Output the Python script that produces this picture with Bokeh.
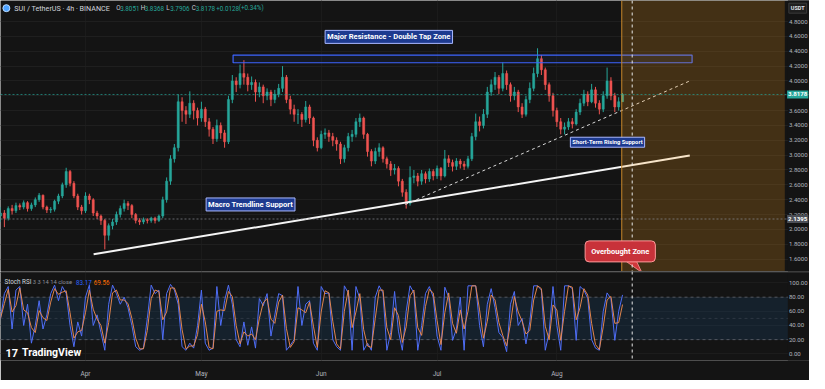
from bokeh.plotting import figure
from bokeh.models import Range1d, FixedTicker, Span, Label, BoxAnnotation
from bokeh.layouts import column
from bokeh.embed import file_html
from bokeh.resources import INLINE
from bokeh.core.properties import value

# ---------------- data (daily bars, day 0 = 10 Mar) ----------------
first_open = 2.18
close = [2.22, 2.15, 2.28, 2.25, 2.32, 2.30, 2.36, 2.28, 2.33, 2.40,
         2.46, 2.30, 2.26, 2.27, 2.38, 2.45, 2.60, 2.78, 2.62, 2.45,
         2.30, 2.25, 2.45, 2.40, 2.22, 2.18, 2.12, 1.92, 2.05, 2.10,
         2.20, 2.28, 2.35, 2.32, 2.20, 2.12, 2.10, 2.13, 2.12, 2.15,
         2.12, 2.18, 2.40, 2.65, 2.95, 3.10, 3.72, 3.60, 3.55, 3.70,
         3.60, 3.50, 3.62, 3.45, 3.35, 3.22, 3.40, 3.30, 3.18, 3.75,
         4.00, 3.95, 4.10, 4.05, 3.95, 3.98, 3.85, 3.92, 3.80, 3.85,
         3.75, 3.82, 3.90, 4.05, 3.75, 3.62, 3.55, 3.55, 3.48, 3.65,
         3.50, 3.20, 3.10, 3.28, 3.30, 3.25, 3.20, 3.15, 2.95, 3.10,
         3.25, 3.28, 3.45, 3.50, 3.28, 3.05, 2.92, 3.05, 3.10, 2.95,
         2.88, 2.80, 2.82, 2.65, 2.50, 2.35, 2.70, 2.72, 2.65, 2.75,
         2.68, 2.78, 2.72, 2.82, 2.72, 2.95, 2.90, 2.85, 2.92, 2.88,
         2.85, 2.95, 3.25, 3.45, 3.40, 3.55, 3.85, 3.95, 4.05, 3.90,
         4.10, 3.95, 3.80, 3.85, 3.65, 3.55, 3.75, 3.90, 4.10, 4.30,
         4.15, 3.95, 3.80, 3.60, 3.45, 3.35, 3.38, 3.45, 3.42, 3.58,
         3.70, 3.82, 3.72, 3.88, 3.70, 3.62, 3.80, 4.00, 3.80, 3.65,
         3.72, 3.8178]
high = [2.30, 2.26, 2.31, 2.33, 2.36, 2.35, 2.39, 2.38, 2.36, 2.43,
        2.49, 2.47, 2.32, 2.30, 2.40, 2.48, 2.63, 2.83, 2.80, 2.65,
        2.48, 2.33, 2.50, 2.48, 2.42, 2.25, 2.20, 2.14, 2.08, 2.14,
        2.24, 2.32, 2.40, 2.38, 2.34, 2.22, 2.15, 2.16, 2.15, 2.17,
        2.17, 2.20, 2.44, 2.70, 3.00, 3.15, 3.82, 3.78, 3.66, 3.86,
        3.74, 3.64, 3.72, 3.65, 3.50, 3.38, 3.48, 3.44, 3.34, 3.80,
        4.08, 4.05, 4.22, 4.28, 4.10, 4.06, 4.02, 3.98, 3.95, 3.90,
        3.88, 3.88, 3.96, 4.20, 4.08, 3.80, 3.68, 3.62, 3.58, 3.73,
        3.68, 3.52, 3.24, 3.33, 3.36, 3.34, 3.30, 3.24, 3.18, 3.14,
        3.30, 3.34, 3.50, 3.56, 3.52, 3.30, 3.08, 3.10, 3.16, 3.12,
        2.98, 2.92, 2.88, 2.85, 2.68, 2.54, 2.85, 2.80, 2.76, 2.80,
        2.78, 2.82, 2.81, 2.86, 2.84, 3.07, 3.00, 2.94, 2.96, 2.95,
        2.92, 2.99, 3.30, 3.56, 3.52, 3.62, 3.92, 4.02, 4.12, 4.08,
        4.25, 4.14, 3.98, 3.92, 3.88, 3.70, 3.80, 3.98, 4.18, 4.44,
        4.35, 4.18, 3.98, 3.84, 3.64, 3.50, 3.44, 3.50, 3.50, 3.62,
        3.76, 3.88, 3.86, 3.96, 3.92, 3.74, 3.86, 4.18, 4.05, 3.84,
        3.78, 3.8368]
low = [2.10, 2.03, 2.12, 2.20, 2.22, 2.26, 2.27, 2.24, 2.25, 2.30,
       2.37, 2.27, 2.22, 2.22, 2.24, 2.34, 2.42, 2.56, 2.58, 2.42,
       2.26, 2.20, 2.22, 2.34, 2.18, 2.14, 2.06, 1.73, 1.85, 2.00,
       2.06, 2.16, 2.24, 2.26, 2.15, 2.08, 2.06, 2.07, 2.08, 2.09,
       2.08, 2.10, 2.15, 2.36, 2.60, 2.90, 3.05, 3.45, 3.42, 3.50,
       3.48, 3.40, 3.45, 3.38, 3.25, 3.15, 3.18, 3.22, 3.10, 3.15,
       3.70, 3.85, 3.90, 3.95, 3.86, 3.88, 3.72, 3.78, 3.70, 3.74,
       3.66, 3.70, 3.78, 3.85, 3.70, 3.55, 3.45, 3.42, 3.38, 3.44,
       3.42, 3.12, 3.05, 3.08, 3.22, 3.18, 3.12, 3.06, 2.88, 2.90,
       3.05, 3.18, 3.24, 3.38, 3.22, 2.98, 2.85, 2.88, 2.98, 2.90,
       2.82, 2.72, 2.74, 2.58, 2.44, 2.28, 2.32, 2.62, 2.58, 2.60,
       2.62, 2.64, 2.66, 2.68, 2.66, 2.70, 2.84, 2.78, 2.80, 2.82,
       2.80, 2.82, 2.92, 3.20, 3.32, 3.36, 3.50, 3.80, 3.88, 3.82,
       3.86, 3.88, 3.72, 3.74, 3.58, 3.50, 3.52, 3.70, 3.86, 4.05,
       4.08, 3.88, 3.72, 3.52, 3.38, 3.28, 3.28, 3.34, 3.36, 3.40,
       3.54, 3.66, 3.66, 3.70, 3.64, 3.55, 3.58, 3.76, 3.74, 3.58,
       3.60, 3.7906]
stoch_k = [50, 85, 95, 35, 90, 95, 40, 70, 15, 40,
           75, 35, 55, 85, 97, 75, 95, 85, 40, 10,
           45, 25, 80, 97, 40, 55, 30, 5, 70, 97,
           85, 70, 80, 65, 40, 10, 5, 8, 50, 97,
           85, 90, 20, 85, 98, 90, 70, 10, 5, 15,
           8, 40, 90, 15, 5, 8, 95, 40, 75, 97,
           70, 20, 10, 45, 12, 38, 8, 78, 68, 85,
           25, 55, 85, 82, 5, 12, 20, 95, 40, 70,
           75, 15, 5, 95, 85, 86, 20, 10, 5, 96,
           86, 5, 95, 78, 5, 15, 5, 80, 96, 86,
           5, 30, 88, 32, 5, 60, 96, 86, 5, 40,
           85, 95, 80, 25, 5, 94, 80, 19, 35, 80,
           5, 96, 96, 96, 40, 10, 70, 92, 65, 30,
           23, 3, 70, 88, 40, 50, 14, 45, 96, 96,
           90, 5, 30, 95, 40, 5, 96, 96, 92, 19,
           95, 90, 78, 20, 8, 5, 60, 86, 78, 19,
           60, 83.17]
stoch_d = [50, 71, 91, 59, 68, 93, 62, 58, 37, 30,
           61, 51, 47, 73, 92, 84, 87, 89, 58, 22,
           31, 33, 58, 90, 63, 49, 40, 15, 44, 86,
           90, 76, 76, 71, 50, 22, 7, 7, 33, 78,
           90, 88, 48, 59, 93, 93, 78, 34, 7, 11,
           11, 27, 70, 45, 9, 7, 60, 62, 61, 88,
           81, 40, 14, 31, 25, 28, 20, 50, 72, 78,
           49, 43, 73, 83, 36, 9, 17, 65, 62, 58,
           73, 39, 9, 59, 89, 86, 46, 14, 7, 60,
           90, 37, 59, 85, 34, 11, 9, 50, 90, 90,
           37, 20, 65, 54, 16, 38, 82, 90, 37, 26,
           67, 91, 86, 47, 13, 58, 86, 43, 29, 62,
           35, 60, 96, 96, 62, 22, 46, 83, 76, 44,
           26, 11, 43, 81, 59, 46, 28, 33, 76, 96,
           92, 39, 20, 69, 62, 19, 60, 96, 94, 48,
           65, 92, 83, 43, 13, 6, 38, 76, 81, 43,
           44, 69.56]

price_ticks = [1.6, 1.8, 2.0, 2.2, 2.4, 2.6, 2.8, 3.0, 3.2, 3.4, 3.6, 3.8, 4.0, 4.2, 4.4, 4.6, 4.8]
rsi_ticks = [0, 20, 40, 60, 80, 100]
month_days = [22, 52, 83, 113, 144]
month_labels = ["Apr", "May", "Jun", "Jul", "Aug"]

last_price = 3.8178
ref_price = 2.1395
resistance_days = [60.2, 179.0]
resistance_prices = [4.245, 4.348]
macro_days = [24.1, 178.4]
macro_prices = [1.665, 2.994]
short_days = [104.8, 178.4]
short_prices = [2.335, 4.0]
zone_days = [160.8, 203.0]
now_day = 163.5

# ---------------- layout helpers (reference pixel -> data) ----------------
def dx(xr):
    return xr / 3.94

def py(yr):
    return 4.0 - (yr - 84) / 77.5

def ry(yr):
    return (369 - yr) / 0.74

BG = "#141414"
GRID = "#1f1f1f"
TXT = "#b2b5be"
UP = "#26a69a"
DN = "#ef5350"
FONT = "Roboto"
PLOT_END = dx(803)

n = min(len(close), len(high), len(low))
days = list(range(n))
opens = [first_open] + close[:n - 1]
cols = [UP if close[i] >= opens[i] else DN for i in range(n)]
body_top = [max(opens[i], close[i]) for i in range(n)]
body_bot = [min(opens[i], close[i]) for i in range(n)]
hi = [max(high[i], body_top[i]) for i in range(n)]
lo = [min(low[i], body_bot[i]) for i in range(n)]

FW = 809
xr = Range1d(0, dx(825))

def lab(fig, x, y, text, color="#d1d4dc", size="7px", style="normal", align="left", **kw):
    fig.add_layout(Label(x=x, y=y, text=text, text_color=color, text_font_size=size,
                         text_font_style=style, text_align=align, text_baseline="middle",
                         text_font=FONT, **kw))

# ---------------- main price panel ----------------
p = figure(frame_width=FW, frame_height=271, x_range=xr, y_range=Range1d(py(283), py(0)),
           x_axis_location=None, y_axis_location=None,
           output_backend="svg", toolbar_location=None,
           min_border_left=0, min_border_right=0, min_border_top=0, min_border_bottom=0,
           background_fill_color=BG, border_fill_color=BG, outline_line_color=None)
p.ygrid.ticker = FixedTicker(ticks=price_ticks)
p.ygrid.grid_line_color = GRID
p.xgrid.ticker = FixedTicker(ticks=month_days)
p.xgrid.grid_line_color = "#1b1b1b"

p.add_layout(Span(location=last_price, dimension="width", line_color=UP, line_dash="2 2",
                  line_alpha=0.7, line_width=1))
p.add_layout(Span(location=ref_price, dimension="width", line_color="#8a8d96", line_dash="2 2",
                  line_alpha=0.7, line_width=1))

# candles
p.segment(days, hi, days, lo, color=cols, line_width=1)
p.vbar(x=days, width=0.55, top=body_top, bottom=body_bot, fill_color=cols, line_color=cols,
       line_width=0.5)

# resistance zone
p.quad(left=[resistance_days[0]], right=[resistance_days[1]], bottom=[resistance_prices[0]],
       top=[resistance_prices[1]], fill_color="#2962ff", fill_alpha=0.07,
       line_color="#3d64ff", line_width=1.2)

# trendlines
p.line(macro_days, macro_prices, line_color="#f5f5f5", line_width=2)
p.line(short_days, short_prices, line_color="#d9d9d9", line_width=1, line_dash="3 3")

# overbought zone
p.quad(left=[zone_days[0]], right=[zone_days[1]], bottom=[py(283)], top=[py(0)],
       fill_color="#ff9f1a", fill_alpha=0.2, line_color=None)
p.segment([zone_days[0]], [py(283)], [zone_days[0]], [py(0)], line_color="#c7862a", line_width=1)

# price scale area
p.quad(left=[PLOT_END], right=[dx(830)], bottom=[py(290)], top=[py(-5)],
       fill_color=BG, line_color=None)
p.text(x=[dx(804)] * len(price_ticks), y=price_ticks, text=["%.4f" % t for t in price_ticks],
       text_font=value(FONT), text_font_size="6.1px", text_color=TXT, text_baseline="middle",
       text_align="left")

p.add_layout(Span(location=now_day, dimension="height", line_color="#e8e8e8",
                  line_dash="3 3", line_width=1))

# callout pointer
p.patch([dx(636), dx(648), dx(654)], [py(271), py(271), py(284)], fill_color="#d0383a",
        line_color="#ff9a9a", line_width=0.8)

# header
p.scatter([dx(6)], [py(8)], size=7, marker="circle", fill_color="#4da2ff", line_color="#bcdcff")
lab(p, dx(14), py(8), "SUI / TetherUS · 4h · BINANCE", color="#d1d4dc", size="7.2px")
segs = [("O", 118, "#c9ccd4"), ("3.8051", 122, UP), ("H", 143, "#c9ccd4"), ("3.8368", 147, UP),
        ("L", 169, "#c9ccd4"), ("3.7906", 173, UP), ("C", 195, "#c9ccd4"), ("3.8178", 199, UP),
        ("+0.0128", 220, UP), ("(+0.34%)", 243, UP)]
for t, xx, c in segs:
    lab(p, dx(xx), py(8), t, color=c, size="6.3px")

# annotation labels
box = dict(background_fill_color="#1d3a8f", background_fill_alpha=1.0,
           border_line_color="#a9b8ff", border_line_width=1, padding=2)
lab(p, dx(396), py(38), "Major Resistance - Double Tap Zone", color="#ffffff", size="7.6px",
    style="bold", align="center", **box)
lab(p, dx(255), py(213), "Macro Trendline Support", color="#ffffff", size="7.6px",
    style="bold", align="center", **box)
lab(p, dx(619), py(148), "Short-Term Rising Support", color="#ffffff", size="5.8px",
    style="bold", align="center", **box)
lab(p, dx(632), py(262), "Overbought Zone", color="#ffffff", size="7.5px", style="bold",
    align="center", background_fill_color="#c8323a", background_fill_alpha=1.0,
    border_line_color="#ff9a9a", border_line_width=1, padding=6, border_radius=4)

# axis tags
lab(p, dx(813), py(8), "USDT", color="#e0e3eb", size="5.5px", style="bold", align="center",
    background_fill_color="#1f1f1f", background_fill_alpha=1.0, border_line_color="#3a3a3a",
    padding=2)
lab(p, dx(813), last_price, "3.8178", color="#ffffff", size="6.1px", style="bold", align="center",
    background_fill_color=UP, background_fill_alpha=1.0, padding=(1, 2))
lab(p, dx(813), ref_price, "2.1395", color="#ffffff", size="6.1px", style="bold", align="center",
    background_fill_color="#4c4f57", background_fill_alpha=1.0, padding=(1, 2))

# ---------------- stoch RSI panel ----------------
r = figure(frame_width=FW, frame_height=89, x_range=xr, y_range=Range1d(ry(376), ry(283)),
           x_axis_location="below", y_axis_location=None,
           output_backend="svg", toolbar_location=None,
           min_border_left=0, min_border_right=0, min_border_top=0, min_border_bottom=0,
           background_fill_color=BG, border_fill_color=BG, outline_line_color=None)
r.xaxis.major_label_text_font_size = "6.5px"
r.xaxis.major_label_text_color = TXT
r.xaxis.major_label_text_font = FONT
r.xaxis.axis_line_color = None
r.xaxis.major_tick_line_color = None
r.xaxis.minor_tick_line_color = None
r.xaxis.major_label_standoff = 3
r.xaxis.ticker = FixedTicker(ticks=month_days)
r.xaxis.major_label_overrides = {d: m for d, m in zip(month_days, month_labels)}
r.ygrid.ticker = FixedTicker(ticks=rsi_ticks)
r.ygrid.grid_line_color = "#1c1c1c"
r.xgrid.ticker = FixedTicker(ticks=month_days)
r.xgrid.grid_line_color = "#1b1b1b"

r.add_layout(BoxAnnotation(bottom=20, top=80, left=0, right=PLOT_END, fill_color="#2196f3",
                           fill_alpha=0.11, line_color=None, level="underlay"))
for lv, a in ((80, 0.6), (50, 0.25), (20, 0.6)):
    r.segment([0], [lv], [PLOT_END], [lv], line_color="#787b86", line_dash="3 3",
              line_alpha=a, line_width=1)
r.add_layout(Span(location=ry(283.5), dimension="width", line_color="#2a2a2a", line_width=2))

m = min(len(stoch_k), len(stoch_d))
r.line(list(range(m)), stoch_k[:m], line_color="#4f6ef7", line_width=1)
r.line(list(range(m)), stoch_d[:m], line_color="#ec8a4e", line_width=1, line_alpha=0.95)

r.quad(left=[PLOT_END], right=[dx(830)], bottom=[ry(380)], top=[ry(280)],
       fill_color=BG, line_color=None)
r.text(x=[dx(804)] * len(rsi_ticks), y=rsi_ticks, text=["%.2f" % t for t in rsi_ticks],
       text_font=value(FONT), text_font_size="6.1px", text_color=TXT, text_baseline="middle",
       text_align="left")
r.add_layout(Span(location=now_day, dimension="height", line_color="#e8e8e8",
                  line_dash="3 3", line_width=1))

lab(r, dx(4), ry(294), "Stoch RSI", color="#d1d4dc", size="6.3px")
lab(r, dx(33), ry(294), "3 3 14 14 close", color="#8a8d96", size="5.8px")
lab(r, dx(77), ry(294), "83.17", color="#2962ff", size="6.3px")
lab(r, dx(95), ry(294), "69.56", color="#ff6d00", size="6.3px")
lab(r, dx(5), ry(368), "17", color="#ffffff", size="11px", style="bold")
lab(r, dx(22), ry(368), "TradingView", color="#ffffff", size="10.5px", style="bold")

layout = column(p, r, spacing=0)
open("out.html", "w").write(file_html(layout, INLINE))
